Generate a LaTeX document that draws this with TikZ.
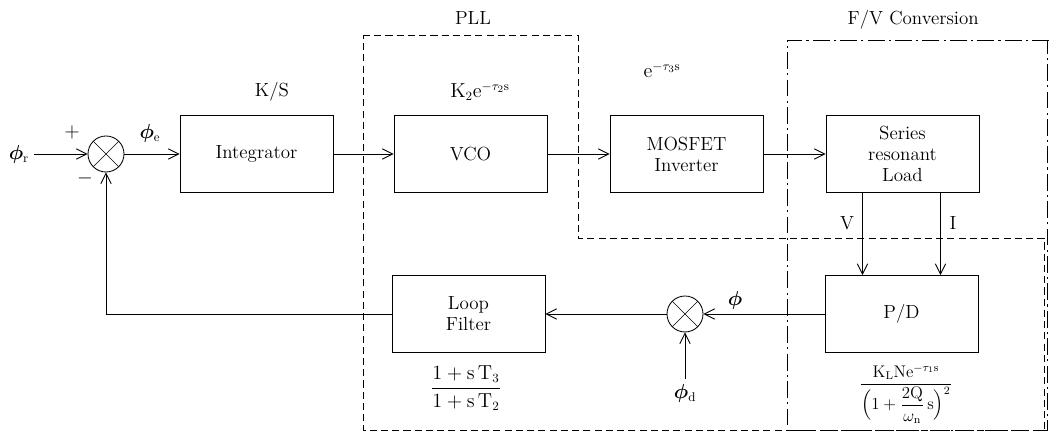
\documentclass[tikz,border=0pt]{standalone}
\usepackage{amsmath,bm}
\usetikzlibrary{arrows.meta}
\tikzset{
  blk/.style={draw,line width=0.6pt,minimum width=3.825cm,minimum height=1.925cm,align=center,font=\fontsize{13.5}{15}\selectfont},
  sumj/.style={draw,circle,line width=0.6pt,minimum size=0.9cm,inner sep=0pt,
    path picture={\draw[line width=0.4pt] (path picture bounding box.north west) -- (path picture bounding box.south east)
      (path picture bounding box.north east) -- (path picture bounding box.south west);}},
  lbl/.style={font=\fontsize{13.5}{15}\selectfont},
  sig/.style={-{Straight Barb[length=2.6mm,width=2.6mm]},line width=0.6pt},
}
\begin{document}
\begin{tikzpicture}[x=1cm,y=1cm]
\path[use as bounding box] (0,0) rectangle (26.225,10.85);
% regions
\draw[line width=0.5pt,dash pattern=on 5pt off 3pt] (9.075,9.975) -- (14.45,9.975) -- (14.45,4.9) -- (26.1,4.9) -- (26.1,0.1) -- (9.075,0.1) -- cycle;
\draw[line width=0.5pt,dash pattern=on 12pt off 3pt on 1.5pt off 3pt] (26.225,9.85) -- (19.675,9.85) -- (19.675,0.1) -- (26.175,0.1) -- (26.175,9.85);
\node[lbl] (pll) at (11.825,10.4) {PLL};
\node[lbl] (fvc) at (22.83,10.35) {F/V Conversion};
% forward path
\node[lbl,anchor=east] (phr) at (0.85,7.0) {$\bm{\phi}_{\mathrm{r}}$};
\node[sumj] (s1) at (2.65,7.0) {};
\node[blk] (int) at (6.4125,7.0) {Integrator};
\node[blk] (vco) at (11.7625,7.0) {VCO};
\node[blk] (inv) at (17.1625,7.0) {MOSFET\\Inverter};
\node[blk] (load) at (22.5625,7.0) {Series\\resonant\\Load};
\node[lbl] at (1.8,7.55) {$+$};
\node[lbl] at (2.125,6.4) {$-$};
\node[lbl] at (3.75,7.525) {$\bm{\phi}_{\mathrm{e}}$};
\node[lbl] at (6.8,8.55) {K/S};
\node[lbl] at (12.0,8.55) {$\mathrm{K}_2\mathrm{e}^{-\tau_2\mathrm{s}}$};
\node[lbl] at (16.55,9.1) {$\mathrm{e}^{-\tau_3\mathrm{s}}$};
% feedback path
\node[blk] (lf) at (11.7125,3.0) {Loop\\Filter};
\node[sumj] (s2) at (17.125,3.0) {};
\node[blk] (pd) at (22.5375,3.0) {P/D};
\node[lbl] (phd) at (17.125,1.025) {$\bm{\phi}_{\mathrm{d}}$};
\node[lbl] at (18.375,3.35) {$\bm{\phi}$};
\node[lbl] at (21.175,5.275) {V};
\node[lbl] at (23.825,5.275) {I};
\node[lbl] at (11.65,1.15) {$\dfrac{1+\mathrm{s}\,\mathrm{T}_3}{1+\mathrm{s}\,\mathrm{T}_2}$};
\node[font=\fontsize{12}{14}\selectfont] at (22.65,1.0) {$\dfrac{\mathrm{K}_{\mathrm{L}}\mathrm{N}\mathrm{e}^{-\tau_1\mathrm{s}}}{\Bigl(1+\dfrac{2\mathrm{Q}}{\omega_{\mathrm{n}}}\,\mathrm{s}\Bigr)^2}$};
% connectors
\draw[sig] (phr.east) -- (s1.west);
\draw[sig] (s1) -- (int);
\draw[sig] (int) -- (vco);
\draw[sig] (vco) -- (inv);
\draw[sig] (inv) -- (load);
\draw[sig] ([xshift=-1cm]load.south) -- ([xshift=-1cm]load.south |- pd.north);
\draw[sig] ([xshift=0.95cm]load.south) -- ([xshift=0.95cm]load.south |- pd.north);
\draw[sig] (pd) -- (s2);
\draw[sig] (phd) -- (s2);
\draw[sig] (s2) -- (lf);
\draw[sig] (lf.west) -| (s1.south);
\end{tikzpicture}
\end{document}
